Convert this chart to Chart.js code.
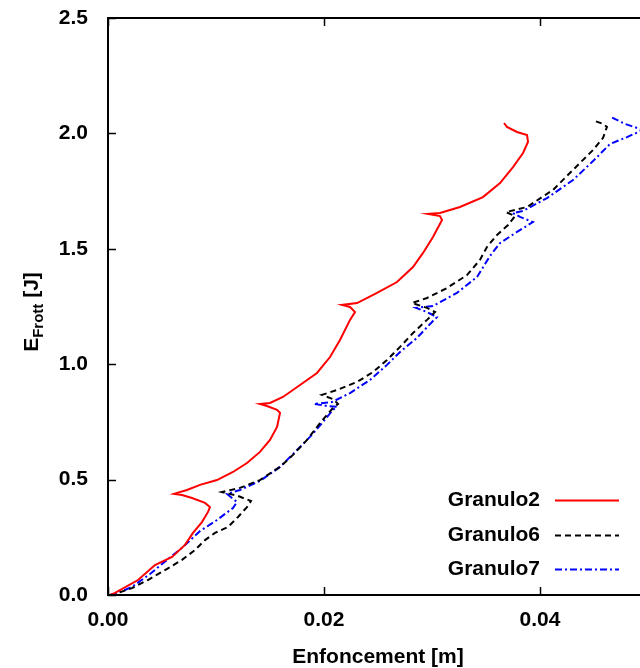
<!DOCTYPE html>
<html>
<head>
<meta charset="utf-8">
<script src="https://cdn.jsdelivr.net/npm/chart.js@4/dist/chart.umd.min.js"></script>
<style>
html,body{margin:0;padding:0;overflow:hidden;background:#fff;width:640px;height:668px;}
canvas{display:block;}
</style>
</head>
<body>
<canvas id="c" width="660" height="668"></canvas>
<script>
// ---- data ----
const seriesNames = ["Granulo2", "Granulo6", "Granulo7"];
const xTicks = [0.00, 0.02, 0.04];
const yTicks = [0.0, 0.5, 1.0, 1.5, 2.0, 2.5];

const granulo2X = [0.00019,0.00065,0.00278,0.00435,0.00593,0.00713,0.00787,0.00870,0.00926,0.00944,0.00898,0.00778,0.00685,0.00611,0.00731,0.00852,0.01009,0.01157,0.01287,0.01407,0.01500,0.01565,0.01593,0.01565,0.01472,0.01407,0.01500,0.01620,0.01778,0.01935,0.02056,0.02148,0.02241,0.02287,0.02241,0.02167,0.02306,0.02491,0.02676,0.02824,0.02917,0.03009,0.03093,0.03074,0.02963,0.03074,0.03259,0.03472,0.03630,0.03750,0.03843,0.03889,0.03880,0.03787,0.03694,0.03667];
const granulo2Y = [0.000,0.009,0.065,0.130,0.165,0.217,0.269,0.316,0.360,0.381,0.399,0.420,0.433,0.438,0.455,0.477,0.498,0.533,0.572,0.620,0.672,0.728,0.789,0.802,0.819,0.828,0.832,0.858,0.910,0.962,1.031,1.105,1.192,1.226,1.248,1.257,1.265,1.309,1.356,1.421,1.482,1.551,1.625,1.642,1.651,1.655,1.681,1.724,1.785,1.854,1.915,1.963,1.993,2.006,2.028,2.045];

const granulo6X = [0.00019,0.00065,0.00222,0.00370,0.00528,0.00685,0.00806,0.00898,0.00991,0.01111,0.01204,0.01287,0.01324,0.01204,0.01056,0.01222,0.01407,0.01593,0.01713,0.01843,0.01963,0.02083,0.02130,0.02083,0.01981,0.02120,0.02306,0.02454,0.02583,0.02704,0.02824,0.02954,0.03028,0.02954,0.02815,0.02954,0.03139,0.03324,0.03444,0.03509,0.03602,0.03704,0.03769,0.03685,0.03880,0.04120,0.04370,0.04491,0.04583,0.04620,0.04583,0.04509];
const granulo6Y = [0.000,0.004,0.030,0.065,0.108,0.152,0.195,0.238,0.269,0.295,0.338,0.381,0.407,0.429,0.446,0.464,0.498,0.555,0.607,0.672,0.745,0.810,0.828,0.849,0.867,0.888,0.923,0.966,1.018,1.075,1.135,1.192,1.226,1.244,1.265,1.287,1.330,1.386,1.452,1.508,1.560,1.603,1.642,1.659,1.681,1.755,1.872,1.928,1.980,2.028,2.041,2.054];

const granulo7X = [0.00019,0.00065,0.00222,0.00389,0.00546,0.00694,0.00852,0.01009,0.01157,0.01194,0.01148,0.01102,0.01222,0.01407,0.01593,0.01750,0.01870,0.01991,0.02083,0.02120,0.02028,0.01907,0.02074,0.02241,0.02426,0.02583,0.02704,0.02861,0.03000,0.03046,0.02954,0.02852,0.03009,0.03231,0.03417,0.03537,0.03630,0.03787,0.03935,0.03815,0.03750,0.03843,0.04065,0.04306,0.04491,0.04648,0.04806,0.04954,0.04787,0.04657];
const granulo7Y = [0.000,0.004,0.035,0.091,0.152,0.208,0.277,0.325,0.377,0.403,0.420,0.438,0.455,0.494,0.555,0.628,0.685,0.750,0.802,0.815,0.819,0.828,0.836,0.875,0.932,0.997,1.053,1.114,1.183,1.204,1.226,1.244,1.252,1.309,1.378,1.469,1.525,1.573,1.616,1.638,1.655,1.664,1.720,1.798,1.880,1.954,1.984,2.015,2.041,2.071];

// ---- styles ----
const FONT = "'Liberation Sans', Arial, sans-serif";
const colors = ["#ff0000", "#000000", "#0000ff"];
const dashes = [[], [6, 4], [7, 3, 2, 3]];

function pts(xs, ys){ return xs.map((x,i)=>({x:x, y:ys[i]})); }
const seriesData = [pts(granulo2X, granulo2Y), pts(granulo6X, granulo6Y), pts(granulo7X, granulo7Y)];

const datasets = seriesNames.map((n,i)=>({
  label: n,
  data: seriesData[i],
  borderColor: colors[i],
  backgroundColor: colors[i],
  borderWidth: 2,
  borderDash: dashes[i],
  pointRadius: 0,
  tension: 0,
  fill: false
}));

const framePlugin = {
  id: 'frame',
  afterDraw(chart){
    const ctx = chart.ctx;
    const a = chart.chartArea;
    const xs = chart.scales.x, ys = chart.scales.y;
    ctx.save();
    ctx.strokeStyle = '#000';
    ctx.lineWidth = 2;
    ctx.setLineDash([]);
    ctx.strokeRect(a.left, a.top, a.right - a.left, a.bottom - a.top);
    ctx.lineWidth = 1.5;
    const tl = 8;
    ctx.beginPath();
    xTicks.forEach(v=>{
      const p = Math.round(xs.getPixelForValue(v)) + 0.5;
      ctx.moveTo(p, a.bottom); ctx.lineTo(p, a.bottom - tl);
      ctx.moveTo(p, a.top); ctx.lineTo(p, a.top + tl);
    });
    yTicks.forEach(v=>{
      const p = Math.round(ys.getPixelForValue(v)) + 0.5;
      ctx.moveTo(a.left, p); ctx.lineTo(a.left + tl, p);
      ctx.moveTo(a.right, p); ctx.lineTo(a.right - tl, p);
    });
    ctx.stroke();

    // axis titles
    ctx.fillStyle = '#000';
    ctx.font = "bold 21px " + FONT;
    ctx.textAlign = 'center';
    ctx.textBaseline = 'alphabetic';
    ctx.fillText("Enfoncement [m]", 378, 663);

    // y title with subscript, rotated
    ctx.save();
    ctx.translate(38, 312);
    ctx.rotate(-Math.PI/2);
    const big = "bold 21px " + FONT, small = "bold 15px " + FONT;
    ctx.font = big; const wE = ctx.measureText("E").width;
    ctx.font = small; const wF = ctx.measureText("Frott").width;
    ctx.font = big; const wJ = ctx.measureText(" [J]").width;
    let x0 = -(wE + wF + wJ) / 2;
    ctx.textAlign = 'left';
    ctx.font = big; ctx.fillText("E", x0, 0); x0 += wE;
    ctx.font = small; ctx.fillText("Frott", x0, 5); x0 += wF;
    ctx.font = big; ctx.fillText(" [J]", x0, 0);
    ctx.restore();

    // legend
    const rows = [500, 535, 569];
    seriesNames.forEach((n,i)=>{
      ctx.font = "bold 21px " + FONT;
      ctx.textAlign = 'right';
      ctx.textBaseline = 'middle';
      ctx.fillStyle = '#000';
      ctx.fillText(n, 540, rows[i]);
      ctx.strokeStyle = colors[i];
      ctx.lineWidth = 2;
      ctx.setLineDash(dashes[i]);
      ctx.beginPath();
      ctx.moveTo(555, rows[i] + 0.5); ctx.lineTo(619, rows[i] + 0.5);
      ctx.stroke();
    });
    ctx.restore();
  }
};

const chart = new Chart(document.getElementById('c'), {
  type: 'line',
  data: { datasets },
  options: {
    responsive: false,
    animation: false,
    devicePixelRatio: 1,
    layout: { autoPadding: false, padding: { top: 18, right: 12, left: 0, bottom: 0 } },
    plugins: { legend: { display: false }, tooltip: { enabled: false } },
    scales: {
      x: {
        type: 'linear',
        min: 0, max: 0.05,
        afterFit: s => { s.height = 73; s.paddingLeft = 0; s.paddingRight = 0; },
        afterBuildTicks: s => { s.ticks = xTicks.map(v=>({value:v})); },
        grid: { display: false, drawTicks: false },
        border: { display: false },
        ticks: {
          padding: 13,
          color: '#000',
          font: { family: FONT, size: 21, weight: 'bold' },
          callback: v => Number(v).toFixed(2),
          maxRotation: 0
        }
      },
      y: {
        type: 'linear',
        min: 0, max: 2.5,
        afterFit: s => { s.width = 108; s.paddingTop = 0; s.paddingBottom = 0; },
        afterBuildTicks: s => { s.ticks = yTicks.map(v=>({value:v})); },
        grid: { display: false, drawTicks: false },
        border: { display: false },
        ticks: {
          padding: 20,
          color: '#000',
          font: { family: FONT, size: 21, weight: 'bold' },
          callback: v => Number(v).toFixed(1)
        }
      }
    }
  },
  plugins: [framePlugin]
});
</script>
</body>
</html>
